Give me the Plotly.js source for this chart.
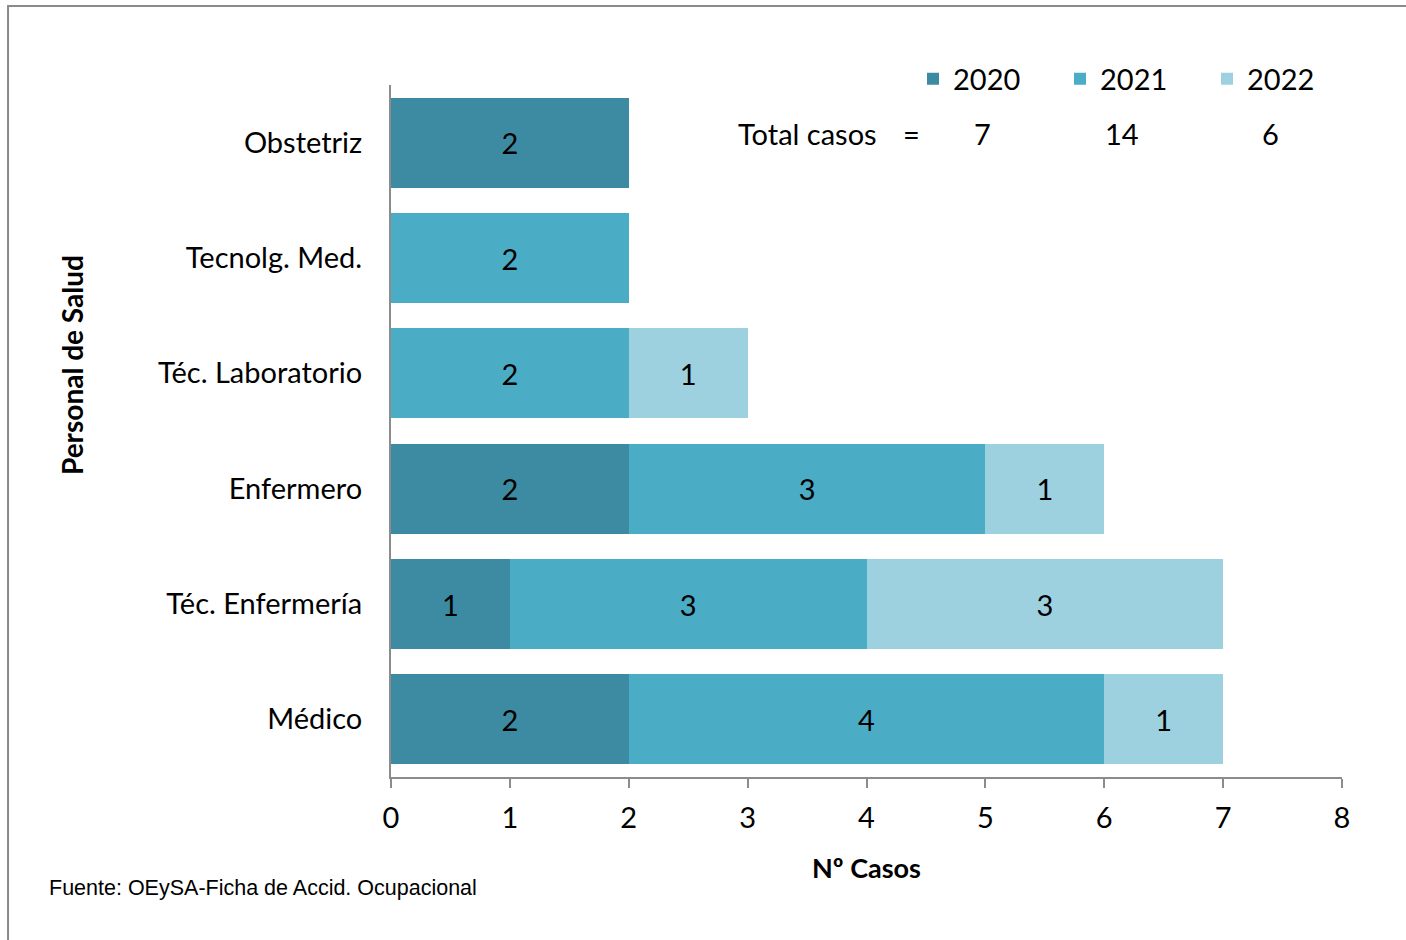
<!DOCTYPE html>
<html>
<head>
<meta charset="utf-8">
<script src="https://cdn.plot.ly/plotly-3.0.1.min.js"></script>
<style>
  html, body { margin: 0; padding: 0; background: #ffffff; }
  #chart { width: 1406px; height: 940px; }
</style>
</head>
<body>
<div id="chart"></div>
<script>
// Categories, top to bottom
const categories = ["Obstetriz", "Tecnolg. Med.", "Téc. Laboratorio", "Enfermero", "Téc. Enfermería", "Médico"];
const years = ["2020", "2021", "2022"];
const cases2020 = [2, null, null, 2, 1, 2];
const cases2021 = [null, 2, 2, 3, 3, 4];
const cases2022 = [null, null, 1, 1, 3, 1];
const xTicks = [0, 1, 2, 3, 4, 5, 6, 7, 8];
const colors = ["#3D8BA2", "#4BACC6", "#9DD1E0"];

const FONT = "Lato, 'Open Sans', sans-serif";
const FS = 29;
const series = [cases2020, cases2021, cases2022];
const sum = a => a.reduce((s, v) => s + (v || 0), 0);

const traces = series.map((vals, i) => ({
  type: "bar",
  orientation: "h",
  name: years[i],
  y: categories,
  x: vals,
  marker: { color: colors[i], line: { width: 0 } },
  text: vals.map(v => v == null ? "" : String(v)),
  textposition: "inside",
  insidetextanchor: "middle",
  textangle: 0,
  constraintext: "none",
  textfont: { family: FONT, size: FS, color: "#000000" },
  hoverinfo: "x+y+name"
}));

const totalX = [0.6225, 0.7687, 0.9253];
const annotations = [
  {
    xref: "paper", yref: "paper", x: 0.3628, y: 0.9292,
    xanchor: "left", yanchor: "middle", showarrow: false,
    text: "Total casos",
    font: { family: FONT, size: FS, color: "#000000" }
  },
  {
    xref: "paper", yref: "paper", x: 0.5478, y: 0.9292,
    xanchor: "center", yanchor: "middle", showarrow: false,
    text: "=",
    font: { family: FONT, size: FS, color: "#000000" }
  },
  ...series.map((vals, i) => ({
    xref: "paper", yref: "paper", x: totalX[i], y: 0.9292,
    xanchor: "center", yanchor: "middle", showarrow: false,
    text: String(sum(vals)),
    font: { family: FONT, size: FS, color: "#000000" }
  })),
  {
    xref: "paper", yref: "paper", x: -0.3354, y: 0.5954,
    xanchor: "center", yanchor: "middle", showarrow: false,
    textangle: -90,
    text: "<b>Personal de Salud</b>",
    font: { family: FONT, size: 28, color: "#000000" }
  },
  {
    xref: "paper", yref: "paper", x: -0.3617, y: -0.1603,
    xanchor: "left", yanchor: "middle", showarrow: false,
    text: "Fuente: OEySA-Ficha de Accid. Ocupacional",
    font: { family: "'Liberation Sans', Arial, sans-serif", size: 21.5, color: "#000000" }
  }
];

const layout = {
  width: 1406, height: 940,
  margin: { l: 391, r: 64, t: 85, b: 163 },
  paper_bgcolor: "#ffffff",
  plot_bgcolor: "#ffffff",
  barmode: "stack",
  bargap: 0.22,
  font: { family: FONT, size: FS, color: "#000000" },
  xaxis: {
    range: [0, 8],
    tickvals: xTicks,
    ticktext: xTicks.map(String),
    showgrid: false, zeroline: false,
    showline: true, linecolor: "#8c8c8c", linewidth: 2,
    ticks: "outside", ticklen: 9, tickwidth: 2, tickcolor: "#8c8c8c",
    ticklabelstandoff: 5,
    tickfont: { family: FONT, size: FS, color: "#000000" },
    title: { text: "<b>Nº Casos</b>", font: { family: FONT, size: 27, color: "#000000" }, standoff: 26 },
    fixedrange: true
  },
  yaxis: {
    type: "category",
    autorange: "reversed",
    showgrid: false, zeroline: false,
    showline: true, linecolor: "#8c8c8c", linewidth: 2,
    ticks: "",
    ticklabelstandoff: 21,
    tickfont: { family: FONT, size: FS, color: "#000000" },
    fixedrange: true
  },
  showlegend: true,
  legend: {
    orientation: "h",
    x: 0.5489, xanchor: "left",
    y: 1.0087, yanchor: "middle",
    traceorder: "normal",
    entrywidth: 102, entrywidthmode: "pixels",
    font: { family: FONT, size: FS, color: "#000000" },
    bgcolor: "rgba(0,0,0,0)", borderwidth: 0
  },
  annotations: annotations,
  shapes: [{
    type: "rect", xref: "paper", yref: "paper",
    x0: -0.4027, x1: 1.2, y0: -0.5, y1: 1.1142,
    line: { color: "#8a8a8a", width: 2 },
    fillcolor: "rgba(0,0,0,0)",
    layer: "below"
  }]
};

Plotly.newPlot("chart", traces, layout, { displayModeBar: false });
</script>
</body>
</html>
